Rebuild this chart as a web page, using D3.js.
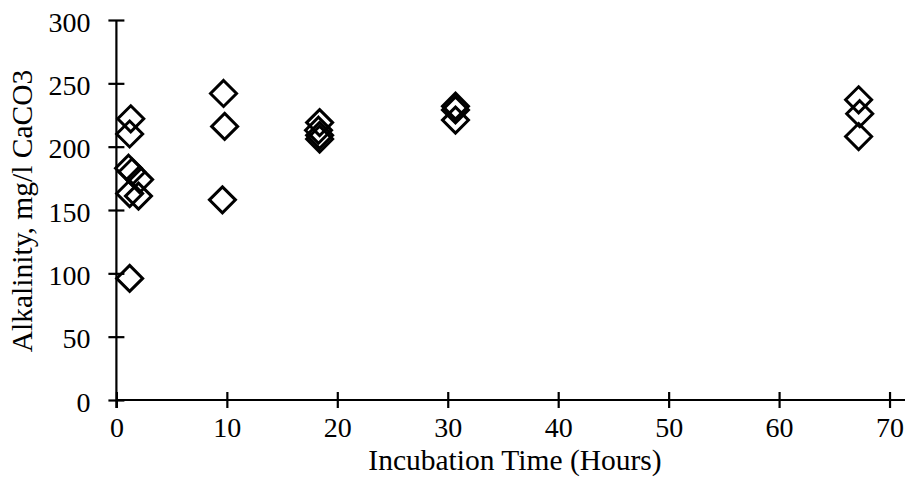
<!DOCTYPE html>
<html>
<head>
<meta charset="utf-8">
<script src="https://cdn.jsdelivr.net/npm/d3@7"></script>
<style>
  html, body { margin: 0; padding: 0; background: #fff; }
  svg { display: block; }
  text { font-family: "Liberation Serif", "Times New Roman", serif; fill: #000; }
</style>
</head>
<body>
<svg id="chart" width="905" height="478"></svg>
<script>
// Data
const hours = [1.3, 1.2, 1.1, 1.4, 2.1, 1.2, 2.0, 1.2, 9.7, 9.8, 9.6, 18.4, 18.3, 18.4, 18.4, 30.7, 30.7, 30.7, 67.2, 67.3, 67.2];
const alkalinity = [222, 210, 183, 180, 174, 163, 161, 96, 242, 216, 158, 219, 213, 209, 206, 232, 229, 221, 237, 226, 208];
const xTicks = [0, 10, 20, 30, 40, 50, 60, 70];
const yTicks = [0, 50, 100, 150, 200, 250, 300];
const xTitle = "Incubation Time (Hours)";
const yTitle = "Alkalinity, mg/l CaCO3";

const svg = d3.select("#chart");
const x = d3.scaleLinear().domain([0, 71.4]).range([116.4, 905]);
const y = d3.scaleLinear().domain([0, 300]).range([400, 20]);

// X axis
const xAxis = svg.append("g").attr("transform", `translate(0,${y(0)})`)
  .call(d3.axisBottom(x).tickValues(xTicks).tickSize(8).tickFormat(d3.format("d")));
xAxis.select(".domain").attr("d", `M${x(0)},0H${x.range()[1]}`).attr("stroke", "#000").attr("stroke-width", 2.2);
xAxis.selectAll(".tick line").attr("y1", -8).attr("y2", 8).attr("stroke", "#000").attr("stroke-width", 2.2);
xAxis.selectAll(".tick text").attr("y", 37).attr("dy", null).attr("font-size", 28)
  .style("font-family", "Liberation Serif, serif").attr("fill", "#000");

// Y axis
const yAxis = svg.append("g").attr("transform", `translate(${x(0)},0)`)
  .call(d3.axisLeft(y).tickValues(yTicks).tickSize(8).tickFormat(d3.format("d")));
yAxis.select(".domain").attr("d", `M0,${y(300)}V${y(0) + 8}`).attr("stroke", "#000").attr("stroke-width", 2.2);
yAxis.selectAll(".tick line").attr("x1", -8).attr("x2", 8).attr("stroke", "#000").attr("stroke-width", 2.2);
yAxis.selectAll(".tick text").attr("x", -26).attr("dy", "0.4em").attr("font-size", 28)
  .style("font-family", "Liberation Serif, serif").attr("fill", "#000");

// Titles
svg.append("text").attr("x", 515).attr("y", 470).attr("text-anchor", "middle")
  .attr("font-size", 29.5).text(xTitle);
svg.append("text").attr("transform", "translate(32,211) rotate(-90)").attr("text-anchor", "middle")
  .attr("font-size", 29.5).text(yTitle);

// Points
const data = hours.map((h, i) => ({ h, a: alkalinity[i] }));
const r = 13;
svg.append("g").selectAll("path").data(data).join("path")
  .attr("transform", d => `translate(${x(d.h)},${y(d.a)})`)
  .attr("d", `M0,${-r}L${r},0L0,${r}L${-r},0Z`)
  .attr("fill", "none").attr("stroke", "#000").attr("stroke-width", 3)
  .attr("stroke-linejoin", "miter");
</script>
</body>
</html>
